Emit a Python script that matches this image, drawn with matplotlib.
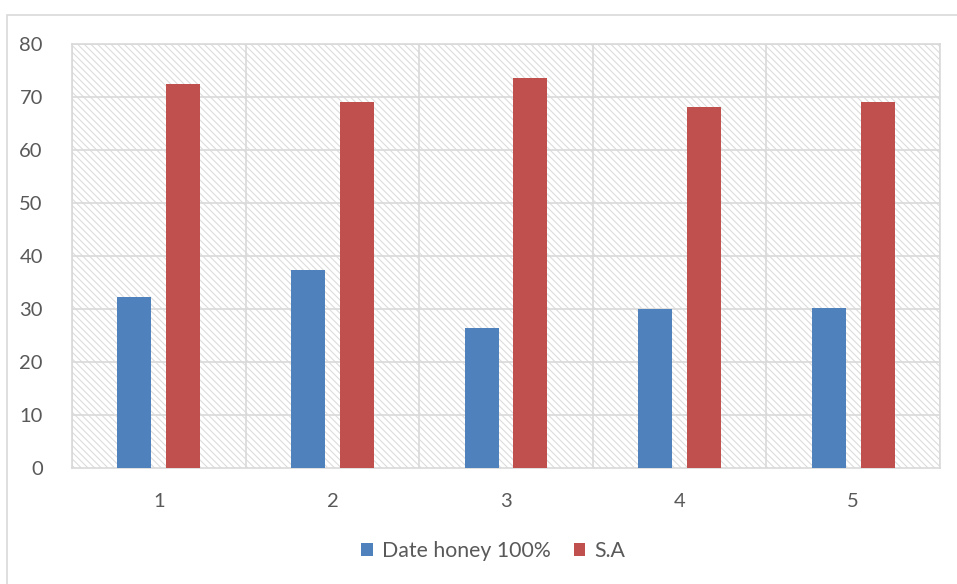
import numpy as np
import matplotlib.pyplot as plt
from matplotlib.patches import Rectangle

plt.rcParams['font.family'] = ['Lato', 'DejaVu Sans']
plt.rcParams['hatch.color'] = '#dcdcdc'
plt.rcParams['hatch.linewidth'] = 0.8

# ---------------------------------
# Data
# ---------------------------------
categories = ['1', '2', '3', '4', '5']
date_honey = [32.2, 37.3, 26.5, 30.0, 30.2]
sa = [72.5, 69.0, 73.5, 68.2, 69.0]

blue = '#4f81bd'
red = '#c0504d'
grid_col = '#d9d9d9'
text_col = '#595959'

# ---------------------------------
# Figure
# ---------------------------------
fig = plt.figure(figsize=(9.57, 5.84), dpi=100)
ax = fig.add_axes([72 / 957, 1 - 468 / 584, 868 / 957, 424 / 584])

# outer chart border
fig.patches.append(Rectangle((7 / 957, -0.1), 1.2, 1.1 - 15 / 584,
                             transform=fig.transFigure, fill=False,
                             edgecolor='#d9d9d9', linewidth=1.2, zorder=0))

x = np.arange(len(categories))
width = 0.196
offset = 0.141

# hatched plot area
ax.add_patch(Rectangle((-0.5, 0), len(categories), 80, facecolor='white',
                       edgecolor=None, linewidth=0, hatch='\\\\\\\\\\', zorder=0))

ax.bar(x - offset, date_honey, width, color=blue, label='Date honey 100%', zorder=3)
ax.bar(x + offset, sa, width, color=red, label='S.A', zorder=3)

ax.set_xlim(-0.5, len(categories) - 0.5)
ax.set_ylim(0, 80)
ax.set_yticks(range(0, 81, 10))
ax.set_xticks(x)
ax.set_xticklabels(categories)

# grid lines
for y in range(10, 81, 10):
    ax.axhline(y, color=grid_col, linewidth=1.2, zorder=1)
for b in np.arange(-0.5, len(categories), 1.0):
    ax.axvline(b, color=grid_col, linewidth=1.2, zorder=1)

for s in ax.spines.values():
    s.set_color(grid_col)
    s.set_linewidth(1.2)

ax.tick_params(axis='both', length=0, labelsize=14.5, colors=text_col)
ax.tick_params(axis='y', pad=21)
ax.tick_params(axis='x', pad=18)

leg = fig.legend(loc='center', bbox_to_anchor=(493 / 957, 1 - 551 / 584), ncol=2,
                 frameon=False, fontsize=15.3, handlelength=0.55, handleheight=0.55,
                 handletextpad=0.4, columnspacing=1.1)
for t in leg.get_texts():
    t.set_color(text_col)

plt.savefig('out.png', dpi=100)
